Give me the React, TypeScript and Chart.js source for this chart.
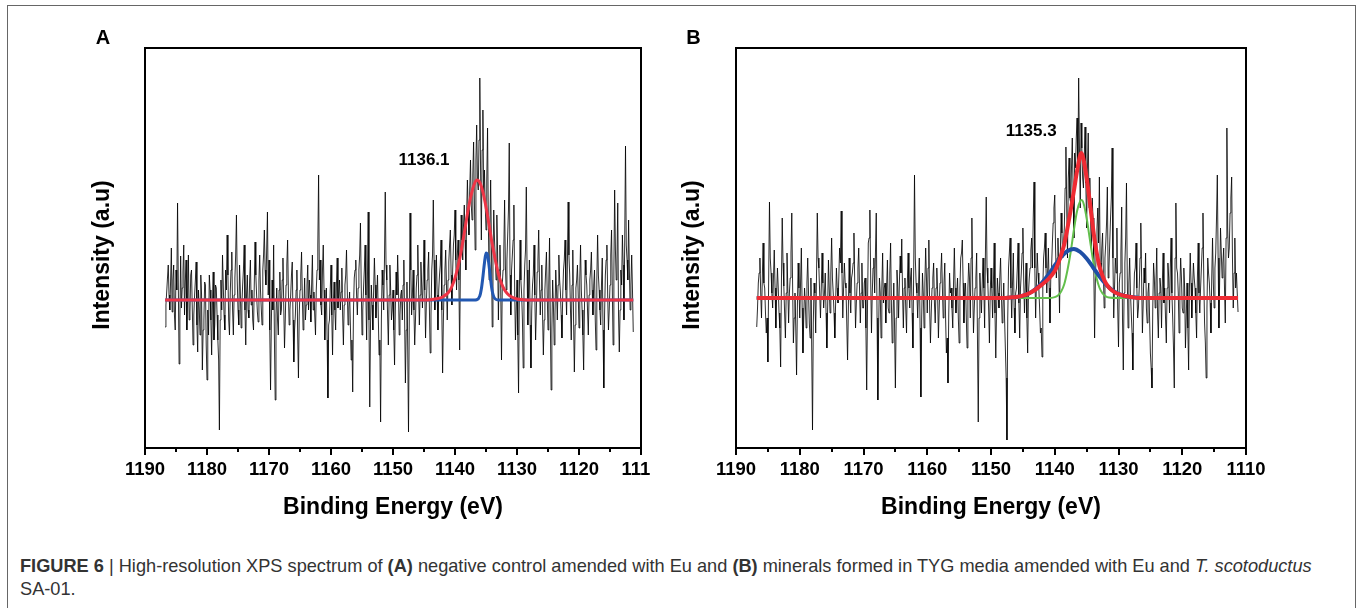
import React, { useEffect, useRef } from 'react';
import { Chart, registerables } from 'chart.js';

Chart.register(...registerables);

const FONT = '"Liberation Sans", Arial, Helvetica, sans-serif';

// Energy grid of the recorded spectra (eV), high to low
const ENERGY_START = 1186.75;
const ENERGY_STEP = 0.125;

// X axis ticks (eV)
const X_TICKS = [1110, 1120, 1130, 1140, 1150, 1160, 1170, 1180, 1190];
const X_MINOR_TICKS = [1115, 1125, 1135, 1145, 1155, 1165, 1175, 1185];

// Panel A: measured counts (baseline-subtracted, arbitrary units)
const SPECTRUM_A = [
  -27, -5, 8, 22, 35, 5, -10, 18, 52, -12, 20, 35, -15, -30, 30, 10, 97, 15, -64, -20, 44, -8, 12, 28, 55, -15,
  18, 40, -30, 5, 45, -20, -12, 25, 30, -8, -45, -15, 5, 20, 38, -25, -52, 10, -8, -35, 25, 5, -70, -30, -20, 18, 15, -45, -80, -10, -35, 25, 10, -20, -55, -5, 28, -40, -25, 15,
  12, -15, -40, -60, -130, -20, 20, -10, 45, 15, -15, -30, 30, 10, 65, 25, -20, -35, 8, 30, 48, -10, -35, 5, 22, 45, 85, 20, -10, -25, 35, 10, -28, -5, 15, 30, 55, -10, -45, 5,
  25, -10, -18, 20, 40, -5, 10, -20, -30, 15, 58, 25, 5, -12, -22, 20, 45, 10, -8, -25, 30, 45, 70, 30, 15, 50, 88, 5, 40, -30, -90, -25, 20, -10, 55, -40, -100, -15, 12, -20,
  -35, 10, 28, -15, -10, 20, 42, -5, -48, -20, 15, 35, 60, 8, -25, -10, 5, 25, 38, -20, -62, -30, -15, 10, 30, -35, -78, -15, 10, 25, 48, 5, -30, -8, 22, -20, -5, 15, 35, -10,
  20, 5, -22, 15, 45, -10, 8, -15, -35, 10, 30, 55, 125, 20, 40, -5, -15, 30, 55, 10, -40, -10, 12, -40, -98, -25, -20, 10, 35, -15, -55, -5, 18, -10, -30, 15, 42, -8, 5, 20,
  -10, 8, 32, -15, -45, -5, 15, 25, 50, 10, -25, -8, 8, -25, -60, -40, -92, -10, 22, 30, 40, 5, -15, 12, 30, 45, 77, 15, -35, -10, 12, 30, 55, 5, -40, 20, 88, -20, -107, -25,
  15, -5, -30, 10, 42, 15, -18, 5, 25, -15, -55, -40, -122, -20, 30, 15, -10, 40, 108, 35, 20, -15, -45, 5, 35, 10, -20, -10, 10, -30, -65, -10, 28, 5, 45, 15, -35, -15, 5, 10,
  -20, 15, 40, -20, -83, -30, 18, -50, -132, -20, 87, 30, -15, 5, 30, -10, -45, -20, 12, 25, 55, 10, -25, 5, 38, 15, -8, 20, 60, 10, -38, -5, 20, 30, 48, -10, -53, -15, 30, 45,
  100, 40, -10, 15, 45, 5, -30, 10, 25, 35, 60, -10, -73, -20, 15, 30, 50, 15, -20, 20, 38, 55, 70, 25, -5, 30, 55, 65, 90, 40, 10, 45, 60, 20, -50, 35, 85, 60, 40, 75,
  95, 60, 30, 85, 120, 90, 65, 110, 140, 95, 80, 125, 158, 100, 50, 140, 175, 120, 110, 160, 222, 130, 60, 150, 190, 105, 130, 95, 70, 120, 172, 80, 20, 70, 120, 55, -27, 40, 90, 60,
  40, 20, 85, 45, -20, 30, 55, 10, -60, 15, 30, 50, 100, 35, 10, 40, 65, 90, 157, 25, -15, 30, 45, 60, 95, 10, -40, -10, 20, -35, -93, 5, 60, 20, 5, -20, -68, 10, 35, 50,
  113, 30, -25, 10, 40, -25, -68, -10, 15, 25, 55, 5, -40, -10, 28, 40, 70, 20, -15, 10, 35, -15, -55, -20, 10, 30, 48, 5, -30, 15, 62, -20, -90, -30, 20, -5, -45, -15, 30, 10,
  -20, 15, 45, 20, 8, -15, -38, 5, 30, 40, 60, 10, -15, 35, 98, 45, 25, -10, -40, 15, 50, -20, -72, -25, 12, 20, 35, 5, -28, 20, 55, 10, -10, -35, -70, -10, 40, 25, 15, -10,
  -35, 5, 20, 30, 48, 10, -15, 15, 30, -20, -50, 20, 65, 25, 10, -10, -25, 15, 42, -30, -88, -15, 25, 40, 55, 5, -30, -10, 15, 45, 70, 10, -45, 30, 110, 50, 20, 40, 97, -15,
  -52, -10, 30, 15, 65, 35, -20, 60, 154, 55, 40, 20, 80, 30, -10, 15, 45, 10, -32,
];

// Panel B: measured counts
const SPECTRUM_B = [
  -29, -10, 15, 25, 40, 5, -20, 20, 55, 15, 10, -15, -35, -20, -64, 20, 96, 40, 25, 5, -10, 20, 48, 10, -30, 5,
  30, 10, -15, -30, -69, 15, 80, 35, 12, -15, -40, 5, 45, 10, -25, 5, 20, 45, 85, 15, -45, -20, 5, -30, -77, -10, 35, 10, -20, 15, 50, -10, -55, -20, 10, -5, -30, 15, 40, 5,
  -25, -40, 20, -50, -132, -25, 15, 5, -35, 20, 85, 40, 30, 5, -20, 10, 45, 15, -10, 5, 25, -15, -50, -10, 38, 10, -15, 25, 60, 20, 5, -15, -40, -5, 30, 10, -5, 20, 50, 35,
  87, 25, -20, 10, 35, 15, 10, -25, -62, -10, 40, 5, -15, 20, 25, 35, 65, 15, -30, -5, 15, 30, 50, 10, -25, 5, 35, -10, -10, 15, 20, -30, -92, -10, 55, 60, 88, 20, -35, 5,
  30, 40, 5, 45, 85, -20, -102, -30, 20, 5, -40, 10, 45, -5, 10, 15, -25, 10, 38, -10, -15, 25, 55, -5, -45, -20, 15, -30, -90, -20, 28, 10, -20, 15, 42, 25, 59, 5, -30, 10,
  20, -10, -35, 15, 45, 10, -10, 20, 30, -15, -50, 30, 123, 40, 15, 5, -20, 10, 40, -30, -99, -20, 25, 5, -30, 15, 50, 20, -15, 30, 58, -10, -45, -15, 10, 20, 35, -5, -25, 10,
  30, 5, -40, -10, 15, 25, 45, 10, -20, 15, 35, -20, -55, -40, -85, -15, 25, 5, 10, -10, -30, 15, 50, 10, -15, 5, 20, -20, -45, 10, 40, 45, 58, 15, -25, 5, 15, -20, -50, 10,
  35, 20, -20, 40, 80, 10, -35, -10, 10, 20, 45, -40, -124, -20, 25, 5, -15, 15, 40, 10, -30, 45, 101, 30, 15, -10, -45, 5, 30, 10, -20, 15, 55, -15, -60, -10, 20, 5, -10, 20,
  40, 5, -25, -10, 15, -20, -50, -80, -142, -20, 30, 45, 60, 10, -20, 15, 45, -10, -35, 5, 10, 30, 55, -5, -40, 10, 25, 45, 70, 20, -15, 10, 35, -20, -55, 5, 20, 30, 48, 60,
  30, 80, 116, 30, -20, 15, 45, 25, 10, -10, -35, -30, -59, 10, 40, 50, 65, 30, 5, 25, 50, 10, -25, 20, 30, 55, 75, 90, 103, 50, 20, 40, 60, 30, -15, 45, 85, 65, 40, 55,
  70, 110, 151, 90, 40, 120, 140, 100, 95, 130, 160, 110, 60, 145, 130, 160, 180, 130, 220, 150, 90, 175, 150, 120, 110, 140, 171, 115, 70, 130, 165, 90, 120, 75, 50, 100, 80, 30, -40, 20,
  45, 70, 90, 55, 121, 35, 20, 50, 65, 25, -10, 40, 55, 75, 111, 20, 30, 55, 80, 100, 150, 40, -20, 10, 40, 25, 70, -10, -49, 15, 25, 45, 91, -20, -72, 5, 35, 60, 115, 20,
  -30, 15, 40, 5, -15, -35, -72, -5, 25, 30, 55, 10, -20, -10, 10, 40, 75, 20, -35, -5, 30, 15, 45, -10, -25, 5, 15, -20, -55, -70, -90, -10, 35, 20, -10, 15, 50, -15, -40, 5,
  20, 10, -30, 15, 45, -5, 10, -20, -45, 10, 35, 20, -15, 30, 60, 5, -20, -50, -90, 40, 95, 30, 25, 5, -35, 10, 40, 20, -10, -15, 30, 10, -50, -20, 15, -30, -72, 10, 45, 15,
  -20, 10, 35, 20, 10, -15, -40, 20, 55, 5, -15, 10, 30, 50, 85, 20, -25, -45, -80, -10, 40, 25, 15, -5, -35, 20, 60, 15, -10, 30, 45, 80, 123, 40, -30, 20, 70, 45, 20, 35,
  50, 10, -25, 60, 170, 70, 40, 50, 85, 100, 121, 40, -10, 25, 60, 10, 25, 5, -14,
];

// Panel A fitted curves
const FIT_A_ENVELOPE_E = [1186.75, 1145, 1144, 1143, 1142, 1141, 1140.5, 1140, 1139.5, 1139, 1138.5, 1138, 1137.5, 1137, 1136.5, 1136, 1135.5, 1135, 1134.5, 1134, 1133.5, 1133, 1132.5, 1132, 1131.5, 1131, 1130, 1129, 1128, 1111.25];
const FIT_A_ENVELOPE = [0, 0, 0.3, 1.2, 3, 8, 13.5, 22, 34, 49, 67, 86, 102, 114, 120, 117.5, 108, 93, 75, 56, 40, 26, 16.5, 10, 6, 3.5, 1, 0.3, 0, 0];
const FIT_A_COMPONENT_E = [1186.75, 1137, 1136.5, 1136, 1135.75, 1135.5, 1135.25, 1135, 1134.75, 1134.5, 1134.25, 1134, 1133.75, 1133.5, 1133, 1111.25];
const FIT_A_COMPONENT = [0, 0, 0.3, 4, 11, 23, 37, 47, 45, 34, 20, 9, 3.3, 1, 0, 0];

// Panel B fitted curves
const FIT_B_ENVELOPE_E = [1186.75, 1148, 1147, 1146, 1145, 1144, 1143, 1142, 1141, 1140, 1139.5, 1139, 1138.5, 1138, 1137.5, 1137, 1136.5, 1136, 1135.8, 1135.5, 1135, 1134.5, 1134, 1133.5, 1133, 1132.5, 1132, 1131.5, 1131, 1130, 1129, 1128, 1127, 1111.25];
const FIT_B_ENVELOPE = [0, 0, 0.5, 1, 2.3, 4.8, 8.5, 13.5, 19, 27, 34, 43, 54, 70, 88, 107, 127, 143, 145, 139, 120, 96, 70, 48, 32, 22, 15, 10.5, 7.5, 4, 2, 1, 0, 0];
const FIT_B_NARROW_E = [1186.75, 1141, 1140, 1139.5, 1139, 1138.5, 1138, 1137.5, 1137, 1136.5, 1136, 1135.8, 1135.5, 1135, 1134.5, 1134, 1133.5, 1133, 1132.5, 1132, 1131.5, 1130, 1111.25];
const FIT_B_NARROW = [0, 0, 0.9, 2.5, 6.4, 14, 28, 46, 68, 87, 97, 98, 95, 80, 59, 38, 21.5, 10.5, 4.5, 1.7, 0.5, 0, 0];
const FIT_B_BROAD_E = [1186.75, 1148, 1147, 1146, 1145, 1144, 1143, 1142, 1141, 1140, 1139, 1138, 1137, 1136, 1135, 1134, 1133, 1132, 1131, 1130, 1129, 1128, 1127, 1126, 1111.25];
const FIT_B_BROAD = [0, 0, 0.4, 1, 2.3, 4.8, 9, 15.2, 23.3, 32.5, 41, 47, 49, 46, 39.5, 30.7, 21.6, 13.8, 7.9, 4.2, 2, 0.9, 0.3, 0, 0];

// Peak annotations: text, energy, intensity
const PEAK_LABEL_A = { text: '1136.1', energy: 1145.0, value: 140 };
const PEAK_LABEL_B = { text: '1135.3', energy: 1143.7, value: 167 };

const toPoints = (xs: number[], ys: number[]) => ys.map((y, i) => ({ x: xs[i], y }));
const spectrumPoints = (ys: number[]) => ys.map((y, i) => ({ x: ENERGY_START - i * ENERGY_STEP, y }));

const framePlugin = {
  id: 'xpsFrame',
  afterDraw(chart: any, _args: any, opts: any) {
    const { ctx, chartArea: a, scales } = chart;
    const xs = scales.x;
    const ys = scales.y;
    ctx.save();
    ctx.strokeStyle = '#000';
    ctx.lineWidth = 2;
    ctx.strokeRect(a.left, a.top, a.right - a.left, a.bottom - a.top);
    ctx.beginPath();
    X_TICKS.forEach((v) => {
      const px = Math.round(xs.getPixelForValue(v));
      ctx.moveTo(px, a.bottom);
      ctx.lineTo(px, a.bottom + 7);
    });
    X_MINOR_TICKS.forEach((v) => {
      const px = Math.round(xs.getPixelForValue(v));
      ctx.moveTo(px, a.bottom);
      ctx.lineTo(px, a.bottom + 4);
    });
    ctx.stroke();

    ctx.fillStyle = '#000';
    ctx.textAlign = 'center';
    ctx.textBaseline = 'middle';

    if (opts.peak) {
      ctx.font = `bold 17px ${FONT}`;
      ctx.fillText(opts.peak.text, xs.getPixelForValue(opts.peak.energy), ys.getPixelForValue(opts.peak.value));
    }
    ctx.font = `bold 20px ${FONT}`;
    ctx.fillText(opts.letter, opts.letterX, opts.letterY);

    ctx.font = `bold 23px ${FONT}`;
    ctx.translate(opts.yTitleX, opts.yTitleY);
    ctx.rotate(-Math.PI / 2);
    ctx.fillText('Intensity (a.u)', 0, 0);
    ctx.restore();
  },
};

type FitDef = { e: number[]; v: number[]; color: string; width: number };

type PanelProps = {
  left: number;
  width: number;
  padLeft: number;
  padRight: number;
  yMin: number;
  yMax: number;
  spectrum: number[];
  fits: FitDef[];
  peak: { text: string; energy: number; value: number };
  letter: string;
  letterX: number;
  letterY: number;
  yTitleX: number;
};

const CANVAS_H = 529;

function Panel(p: PanelProps) {
  const ref = useRef<HTMLCanvasElement>(null);
  useEffect(() => {
    if (!ref.current) return;
    const fitSets = p.fits.map((f) => ({
      data: toPoints(f.e, f.v),
      borderColor: f.color,
      borderWidth: f.width,
      pointRadius: 0,
      fill: false,
      cubicInterpolationMode: 'monotone' as const,
    }));
    const chart = new Chart(ref.current, {
      type: 'line',
      data: {
        datasets: [
          ...fitSets,
          {
            data: spectrumPoints(p.spectrum),
            borderColor: 'rgba(0,0,0,0.82)',
            borderWidth: 1,
            pointRadius: 0,
            fill: false,
            tension: 0,
          },
        ],
      },
      options: {
        animation: false,
        responsive: false,
        maintainAspectRatio: false,
        devicePixelRatio: 1,
        events: [],
        layout: { padding: { left: p.padLeft, right: p.padRight, top: 48, bottom: 4 } },
        plugins: {
          legend: { display: false },
          tooltip: { enabled: false },
          xpsFrame: {
            peak: p.peak,
            letter: p.letter,
            letterX: p.letterX,
            letterY: p.letterY,
            yTitleX: p.yTitleX,
            yTitleY: 255,
          },
        } as any,
        scales: {
          x: {
            type: 'linear',
            reverse: true,
            min: 1110,
            max: 1190,
            grid: { display: false, drawTicks: false },
            border: { display: false },
            ticks: {
              color: '#000',
              font: { family: FONT, size: 18.5, weight: 'bold' },
              padding: 10.5,
              maxRotation: 0,
              autoSkip: false,
              callback: (v: any) => String(v),
            },
            afterBuildTicks: (s: any) => {
              s.ticks = X_TICKS.map((v) => ({ value: v }));
            },
            afterFit: (s: any) => {
              s.height = 77;
              s.paddingLeft = 0;
              s.paddingRight = 0;
            },
            title: {
              display: true,
              text: 'Binding Energy (eV)',
              color: '#000',
              font: { family: FONT, size: 23, weight: 'bold' },
              padding: { top: 4, bottom: 4 },
            },
          },
          y: { display: false, min: p.yMin, max: p.yMax },
        },
      },
      plugins: [framePlugin],
    });
    return () => chart.destroy();
  }, []);
  return (
    <canvas
      ref={ref}
      width={p.width}
      height={CANVAS_H}
      style={{ position: 'absolute', left: p.left, top: 0, width: p.width, height: CANVAS_H }}
    />
  );
}

export default function App() {
  return (
    <div
      style={{
        position: 'absolute',
        left: 0,
        top: 0,
        width: 1360,
        height: 608,
        overflow: 'hidden',
        background: '#fff',
        fontFamily: FONT,
      }}
    >
      <div
        style={{
          position: 'absolute',
          left: 7,
          top: 5,
          width: 1347,
          height: 610,
          borderLeft: '1px solid #666',
          borderTop: '1px solid #666',
          borderRight: '1px solid #666',
        }}
      />
      <Panel
        left={0}
        width={650}
        padLeft={145}
        padRight={9}
        yMin={-148}
        yMax={252}
        spectrum={SPECTRUM_A}
        fits={[
          { e: FIT_A_ENVELOPE_E, v: FIT_A_ENVELOPE, color: '#ee3546', width: 3 },
          { e: FIT_A_COMPONENT_E, v: FIT_A_COMPONENT, color: '#2258b2', width: 3 },
        ]}
        peak={PEAK_LABEL_A}
        letter="A"
        letterX={103}
        letterY={38}
        yTitleX={103}
      />
      <Panel
        left={660}
        width={700}
        padLeft={76}
        padRight={114}
        yMin={-150}
        yMax={250}
        spectrum={SPECTRUM_B}
        fits={[
          { e: FIT_B_ENVELOPE_E, v: FIT_B_ENVELOPE, color: '#ef2b33', width: 4 },
          { e: FIT_B_BROAD_E, v: FIT_B_BROAD, color: '#1f4fa6', width: 4 },
          { e: FIT_B_NARROW_E, v: FIT_B_NARROW, color: '#62bf4c', width: 2 },
        ]}
        peak={PEAK_LABEL_B}
        letter="B"
        letterX={33.5}
        letterY={38.5}
        yTitleX={32.5}
      />
      <div
        style={{
          position: 'absolute',
          left: 20,
          top: 555,
          fontSize: 18.2,
          lineHeight: '23px',
          color: '#333',
          whiteSpace: 'nowrap',
        }}
      >
        <b>FIGURE 6</b> | High-resolution XPS spectrum of <b>(A)</b> negative control amended with Eu and{' '}
        <b>(B)</b> minerals formed in TYG media amended with Eu and <i>T. scotoductus</i>
        <br />
        SA-01.
      </div>
    </div>
  );
}
